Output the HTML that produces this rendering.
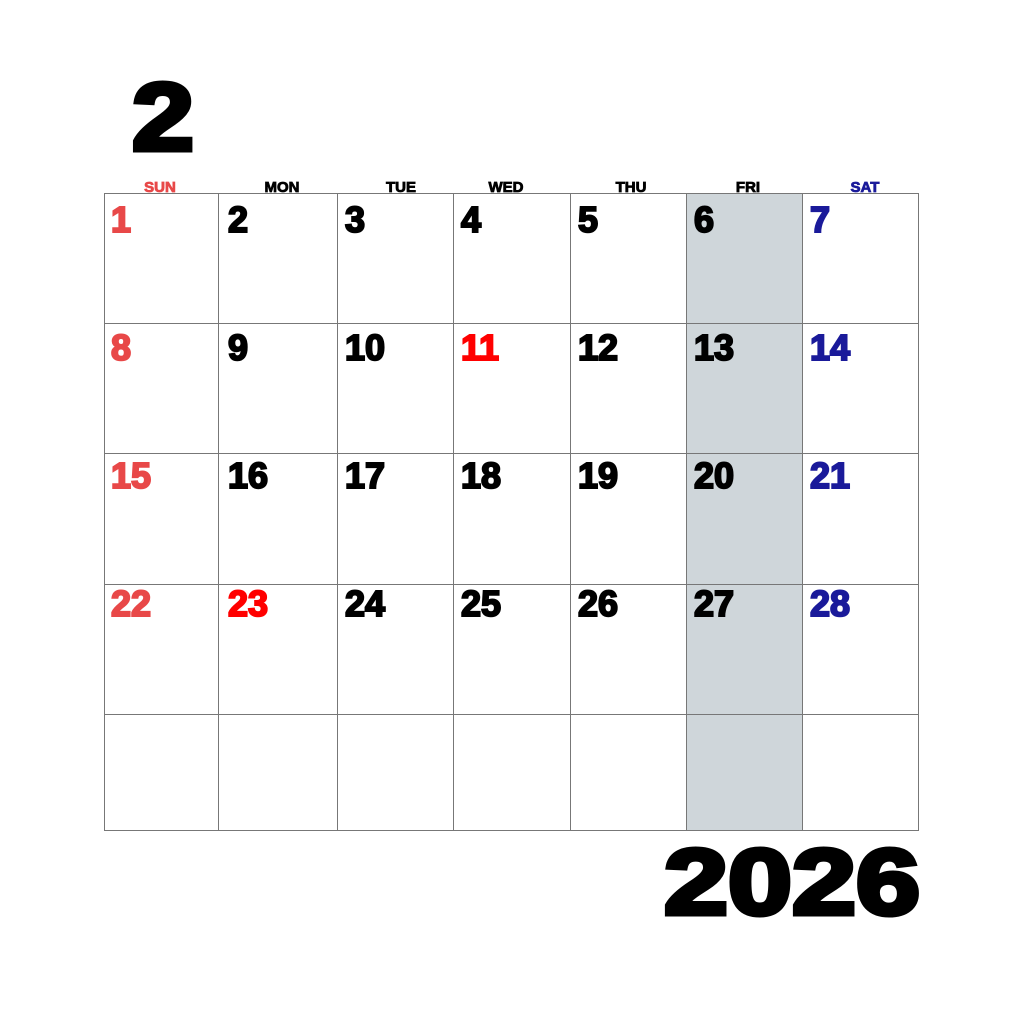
<!DOCTYPE html>
<html><head><style>
html,body{margin:0;padding:0;background:#fff;}
svg text{font-family:"Liberation Sans",Arial,sans-serif;font-weight:bold;}
</style></head><body>
<svg width="1024" height="1024" viewBox="0 0 1024 1024" xmlns="http://www.w3.org/2000/svg">
<rect width="1024" height="1024" fill="#fff"/>
<rect x="686" y="193" width="116" height="637" fill="#cfd6da"/>
<g stroke="#777" stroke-width="1" fill="none">
<rect x="104.5" y="193.5" width="814" height="637"/>
<line x1="218.5" y1="193" x2="218.5" y2="830"/>
<line x1="337.5" y1="193" x2="337.5" y2="830"/>
<line x1="453.5" y1="193" x2="453.5" y2="830"/>
<line x1="570.5" y1="193" x2="570.5" y2="830"/>
<line x1="686.5" y1="193" x2="686.5" y2="830"/>
<line x1="802.5" y1="193" x2="802.5" y2="830"/>
<line x1="104" y1="323.5" x2="918" y2="323.5"/>
<line x1="104" y1="453.5" x2="918" y2="453.5"/>
<line x1="104" y1="584.5" x2="918" y2="584.5"/>
<line x1="104" y1="714.5" x2="918" y2="714.5"/>
</g>
<text x="132" y="150" font-size="96" stroke="#000" stroke-width="5" textLength="62" lengthAdjust="spacingAndGlyphs">2</text>
<text x="664" y="914" font-size="93" stroke="#000" stroke-width="5" textLength="256" lengthAdjust="spacingAndGlyphs">2026</text>
<g font-size="15" text-anchor="middle" stroke-width="0.8">
<text x="160" y="192" fill="#e84848" stroke="#e84848">SUN</text>
<text x="282" y="192" fill="#000" stroke="#000">MON</text>
<text x="401" y="192" fill="#000" stroke="#000">TUE</text>
<text x="506" y="192" fill="#000" stroke="#000">WED</text>
<text x="631" y="192" fill="#000" stroke="#000">THU</text>
<text x="748" y="192" fill="#000" stroke="#000">FRI</text>
<text x="865" y="192" fill="#1a1a9a" stroke="#1a1a9a">SAT</text>
</g>
<g font-size="36" stroke-width="2">
<g fill="#e84848" stroke="#e84848">
<text x="111" y="232">1</text><text x="111" y="360">8</text><text x="111" y="488">15</text><text x="111" y="616">22</text>
</g>
<g fill="#000" stroke="#000">
<text x="228" y="232">2</text><text x="345" y="232">3</text><text x="461" y="232">4</text><text x="578" y="232">5</text><text x="694" y="232">6</text>
<text x="228" y="360">9</text><text x="345" y="360">10</text><text x="578" y="360">12</text><text x="694" y="360">13</text>
<text x="228" y="488">16</text><text x="345" y="488">17</text><text x="461" y="488">18</text><text x="578" y="488">19</text><text x="694" y="488">20</text>
<text x="345" y="616">24</text><text x="461" y="616">25</text><text x="578" y="616">26</text><text x="694" y="616">27</text>
</g>
<g fill="#ff0000" stroke="#ff0000">
<text x="461" y="360">11</text><text x="228" y="616">23</text>
</g>
<g fill="#1a1a9a" stroke="#1a1a9a">
<text x="810" y="232">7</text><text x="810" y="360">14</text><text x="810" y="488">21</text><text x="810" y="616">28</text>
</g>
</g>
</svg>
</body></html>
